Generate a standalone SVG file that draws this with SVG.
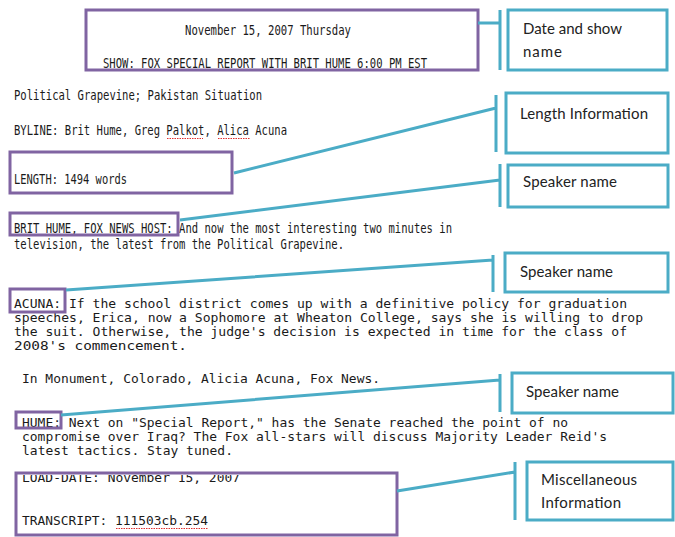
<svg xmlns="http://www.w3.org/2000/svg" width="675" height="537" viewBox="0 0 675 537">
<style>
.pbox{fill:none;stroke:#8064A2;stroke-width:3}
.tbox{fill:#fff;stroke:#4BACC6;stroke-width:3}
.conn{fill:none;stroke:#4BACC6;stroke-width:3}
.lbl{font-family:Lato,"Open Sans",sans-serif;font-size:15px;fill:#222}
.mono{font-family:"DejaVu Sans Mono","Liberation Mono",monospace;font-size:13px;fill:#1a1a1a}
.cond{font-family:"DejaVu Sans Mono","Liberation Mono",monospace;font-size:14px;fill:#1a1a1a}
.sq{fill:none;stroke:#e03030;stroke-width:1;stroke-dasharray:1.5 1}
</style>
<defs>
<clipPath id="clipMisc"><rect x="0" y="475" width="675" height="62"/></clipPath>
</defs>
<rect width="675" height="537" fill="#fff"/>

<g id="transcript-text">
<text class="cond" x="185" y="35" textLength="166" lengthAdjust="spacingAndGlyphs">November 15, 2007 Thursday</text>
<text class="cond" x="103" y="68" textLength="324" lengthAdjust="spacingAndGlyphs">SHOW: FOX SPECIAL REPORT WITH BRIT HUME 6:00 PM EST</text>
<text class="cond" x="14" y="100" textLength="248" lengthAdjust="spacingAndGlyphs">Political Grapevine; Pakistan Situation</text>
<text class="cond" x="14" y="135" textLength="273" lengthAdjust="spacingAndGlyphs">BYLINE: Brit Hume, Greg Palkot, Alica Acuna</text>
<path class="sq" d="M167,138.5 H203 M218,138.5 H250"/>
<text class="cond" x="14" y="184" textLength="113" lengthAdjust="spacingAndGlyphs">LENGTH: 1494 words</text>
<text class="cond" x="14" y="233" textLength="438" lengthAdjust="spacingAndGlyphs">BRIT HUME, FOX NEWS HOST: And now the most interesting two minutes in</text>
<text class="cond" x="14" y="249" textLength="330" lengthAdjust="spacingAndGlyphs">television, the latest from the Political Grapevine.</text>
<text class="mono" x="14" y="308" textLength="613" lengthAdjust="spacingAndGlyphs">ACUNA: If the school district comes up with a definitive policy for graduation</text>
<text class="mono" x="14" y="322" textLength="629" lengthAdjust="spacingAndGlyphs">speeches, Erica, now a Sophomore at Wheaton College, says she is willing to drop</text>
<text class="mono" x="14" y="336" textLength="613" lengthAdjust="spacingAndGlyphs">the suit. Otherwise, the judge's decision is expected in time for the class of</text>
<text class="mono" x="14" y="350" textLength="173" lengthAdjust="spacingAndGlyphs">2008's commencement.</text>
<text class="mono" x="22" y="383" textLength="358" lengthAdjust="spacingAndGlyphs">In Monument, Colorado, Alicia Acuna, Fox News.</text>
<text class="mono" x="22" y="427" textLength="546" lengthAdjust="spacingAndGlyphs">HUME: Next on "Special Report," has the Senate reached the point of no</text>
<text class="mono" x="22" y="441" textLength="585" lengthAdjust="spacingAndGlyphs">compromise over Iraq? The Fox all-stars will discuss Majority Leader Reid's</text>
<text class="mono" x="22" y="455" textLength="211" lengthAdjust="spacingAndGlyphs">latest tactics. Stay tuned.</text>
<g clip-path="url(#clipMisc)">
<text class="mono" x="22" y="482" textLength="218" lengthAdjust="spacingAndGlyphs">LOAD-DATE: November 15, 2007</text>
</g>
<text class="mono" x="22" y="525" textLength="186" lengthAdjust="spacingAndGlyphs">TRANSCRIPT: 111503cb.254</text>
<path class="sq" d="M116,528.5 H208"/>
</g>

<g id="highlight-date-show"><rect class="pbox" x="86" y="10" width="392" height="60"/></g>
<g id="highlight-length"><rect class="pbox" x="10" y="152" width="222" height="41"/></g>
<g id="highlight-brit-hume"><rect class="pbox" x="10" y="213" width="168" height="22"/></g>
<g id="highlight-acuna"><rect class="pbox" x="10" y="289" width="55" height="23"/></g>
<g id="highlight-hume"><rect class="pbox" x="16" y="412" width="45" height="16"/></g>
<g id="highlight-misc"><rect class="pbox" x="16" y="473" width="381" height="62"/></g>

<g id="connectors">
<path class="conn" d="M478,23 H500 M500,10 V70"/>
<path class="conn" d="M234,173 L496,108 M496,95 V152"/>
<path class="conn" d="M180,220 L500,180 M500,164 V207"/>
<path class="conn" d="M66,290 L493,260 M493,255 V292"/>
<path class="conn" d="M61,415 L500,380 M500,374 V412"/>
<path class="conn" d="M397,491 L515,472 M515,462 V520"/>
</g>

<g id="label-date-show">
<rect class="tbox" x="508" y="10" width="159" height="60"/>
<text class="lbl" x="523" y="34" textLength="99" lengthAdjust="spacing">Date and show</text>
<text class="lbl" x="523" y="57" textLength="39" lengthAdjust="spacing">name</text>
</g>
<g id="label-length">
<rect class="tbox" x="506" y="93" width="162" height="60"/>
<text class="lbl" x="520" y="119" textLength="128" lengthAdjust="spacing">Length Information</text>
</g>
<g id="label-speaker-1">
<rect class="tbox" x="508" y="165" width="160" height="42"/>
<text class="lbl" x="523" y="187" textLength="94" lengthAdjust="spacing">Speaker name</text>
</g>
<g id="label-speaker-2">
<rect class="tbox" x="505" y="253" width="163" height="39"/>
<text class="lbl" x="520" y="277" textLength="93" lengthAdjust="spacing">Speaker name</text>
</g>
<g id="label-speaker-3">
<rect class="tbox" x="512" y="373" width="161" height="40"/>
<text class="lbl" x="526" y="397" textLength="93" lengthAdjust="spacing">Speaker name</text>
</g>
<g id="label-misc">
<rect class="tbox" x="527" y="462" width="146" height="58"/>
<text class="lbl" x="541" y="485" textLength="96" lengthAdjust="spacing">Miscellaneous</text>
<text class="lbl" x="541" y="508" textLength="80" lengthAdjust="spacing">Information</text>
</g>
</svg>
